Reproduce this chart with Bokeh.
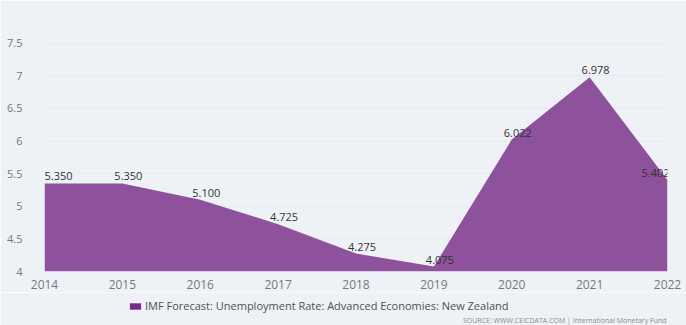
from bokeh.plotting import figure
from bokeh.layouts import column
from bokeh.models import ColumnDataSource, Legend, LegendItem, Label, FixedTicker, Range1d
from bokeh.core.properties import value
from bokeh.embed import file_html
from bokeh.resources import INLINE

years = [2014, 2015, 2016, 2017, 2018, 2019, 2020, 2021, 2022]
rates = [5.350, 5.350, 5.100, 4.725, 4.275, 4.075, 6.022, 6.978, 5.402]
y_ticks = [4, 4.5, 5, 5.5, 6, 6.5, 7, 7.5]
series_name = "IMF Forecast: Unemployment Rate: Advanced Economies: New Zealand"
source_text = "SOURCE: WWW.CEICDATA.COM | International Monetary Fund"

FONT = "Open Sans"
BG = "#eef2f6"
AREA = "#8e519b"
LEGEND_SWATCH = "#762d87"

n = len(years)
offsets = [14 if i == 0 else (-12 if i == n - 1 else 6) for i in range(n)]
src = ColumnDataSource(dict(x=years, y=rates, base=[4] * n,
                            lbl=["%.3f" % v for v in rates], dx=offsets))

p = figure(width=686, height=292, output_backend="svg", toolbar_location=None,
           x_range=Range1d(2014, 2022), y_range=Range1d(4, 8.0),
           min_border_left=44, min_border_right=19, min_border_top=10, min_border_bottom=21)
p.background_fill_color = BG
p.border_fill_color = BG
p.outline_line_color = None

area = p.varea(x="x", y1="base", y2="y", source=src, fill_color=AREA, fill_alpha=1.0)

p.text(x="x", y="y", text="lbl", source=src, text_align="center", text_baseline="bottom",
       y_offset=-3, x_offset="dx", text_font=value(FONT), text_font_size="11px",
       text_color="#333333")

p.xaxis.ticker = FixedTicker(ticks=years)
p.yaxis.ticker = FixedTicker(ticks=y_ticks)
for ax in (p.xaxis[0], p.yaxis[0]):
    ax.axis_line_color = None
    ax.major_tick_line_color = None
    ax.minor_tick_line_color = None
    ax.major_label_text_font = FONT
    ax.major_label_text_color = "#777777"
p.xaxis.major_label_text_font_size = "12px"
p.yaxis.major_label_text_font_size = "11px"
p.xaxis.major_label_standoff = 2
p.yaxis.major_label_standoff = 16
p.xgrid.grid_line_color = None
p.ygrid.grid_line_color = "#e4e9ee"
p.ygrid.grid_line_alpha = 0.8

# footer figure holding the legend and the source note (its frame is aligned with the chart's)
f = figure(width=686, height=33, output_backend="svg", toolbar_location=None,
           x_range=Range1d(0, 1), y_range=Range1d(0, 1),
           min_border_left=0, min_border_right=0, min_border_top=0, min_border_bottom=0)
f.axis.visible = False
f.grid.visible = False
f.background_fill_color = BG
f.border_fill_color = BG
f.outline_line_color = None
swatch = f.varea(x=[5, 6], y1=[5, 5], y2=[6, 6], fill_color=LEGEND_SWATCH)

legend = Legend(items=[LegendItem(label=series_name, renderers=[swatch])],
                location=(84, 12), orientation="horizontal",
                background_fill_alpha=0, border_line_color=None,
                label_text_font=FONT, label_text_font_size="11px", label_text_color="#505050",
                glyph_width=14, glyph_height=8, padding=0, margin=0, label_standoff=3,
                label_height=11)
f.add_layout(legend, "center")

f.add_layout(Label(x=622, y=1, x_units="screen", y_units="screen", text=source_text,
                   text_align="right", text_baseline="bottom", text_font=FONT,
                   text_font_size="7px", text_color="#8a8a8a"))

layout = column(p, f, spacing=0)
open("out.html", "w").write(file_html(layout, INLINE))
